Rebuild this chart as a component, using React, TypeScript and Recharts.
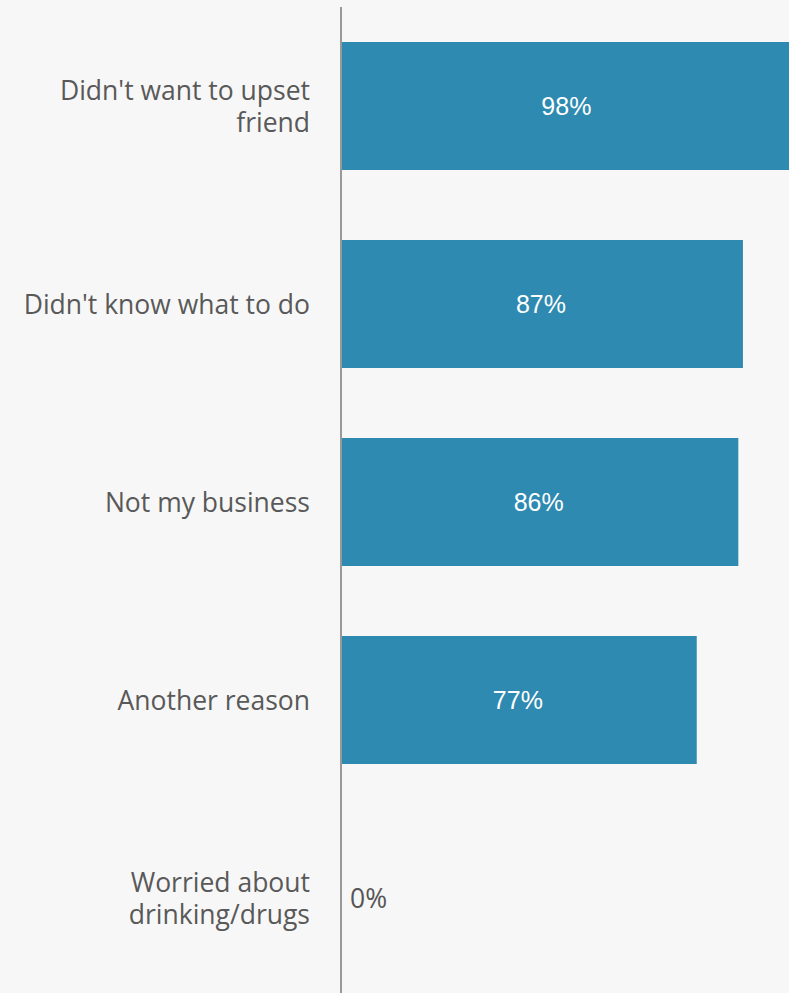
import { BarChart, Bar, XAxis, YAxis, LabelList } from 'recharts';

// reasons, share of respondents (%)
const REASONS = [
  "Didn't want to upset friend",
  "Didn't know what to do",
  'Not my business',
  'Another reason',
  'Worried about drinking/drugs',
];
const SHARES = [98, 87, 86, 77, 0];

const chartData = REASONS.map((reason, i) => ({ reason, share: SHARES[i] }));

const BAR_COLOR = '#2e8ab0';
const LABEL_FONT = '"Open Sans", "Noto Sans", sans-serif';
const LABEL_SIZE = 26.5;
const WRAP_WIDTH = 300;

// greedy word wrap measured with a canvas
const wrapLabel = (label: string): string[] => {
  const ctx = document.createElement('canvas').getContext('2d');
  if (!ctx) return [label];
  ctx.font = `${LABEL_SIZE}px ${LABEL_FONT}`;
  const lines: string[] = [];
  let line = '';
  label.split(' ').forEach(word => {
    const next = line ? `${line} ${word}` : word;
    if (line && ctx.measureText(next).width > WRAP_WIDTH) {
      lines.push(line);
      line = word;
    } else {
      line = next;
    }
  });
  if (line) lines.push(line);
  return lines;
};

// left-hand category label, one <text> per wrapped line
const ReasonTick = ({ x, y, payload }: any) => {
  const lines = wrapLabel(payload.value);
  const lineHeight = 32;
  const startY = y - ((lines.length - 1) * lineHeight) / 2;
  return (
    <g>
      {lines.map((l, i) => (
        <text
          key={i}
          x={x}
          y={startY + i * lineHeight}
          textAnchor="end"
          dominantBaseline="central"
          fontFamily={LABEL_FONT}
          fontSize={LABEL_SIZE}
          fill="#595959"
        >
          {l}
        </text>
      ))}
    </g>
  );
};

// value inside the bar, or just right of the axis when the bar is empty
const ShareLabel = ({ x, y, width, height, value }: any) => {
  const cy = y + height / 2;
  if (!value) {
    return (
      <text x={x + 9} y={cy} dominantBaseline="central" fontFamily={LABEL_FONT} fontSize={LABEL_SIZE} fill="#555">
        {`${value}%`}
      </text>
    );
  }
  return (
    <text
      x={x + width / 2 - 1}
      y={cy}
      textAnchor="middle"
      dominantBaseline="central"
      fontFamily='"Liberation Sans", Arial, sans-serif'
      fontSize={25}
      fill="#fff"
    >
      {`${value}%`}
    </text>
  );
};

export default function App() {
  return (
    <div
      style={{
        position: 'absolute',
        top: 0,
        left: 0,
        width: 789,
        height: 993,
        overflow: 'hidden',
        background: '#f7f7f7',
      }}
    >
      <BarChart
        width={803}
        height={1000}
        data={chartData}
        layout="vertical"
        margin={{ top: 7, right: 0, bottom: 3, left: 0 }}
      >
        <XAxis type="number" domain={[0, 100]} hide />
        <Bar dataKey="share" fill={BAR_COLOR} barSize={128} minPointSize={0.5} isAnimationActive={false}>
          <LabelList dataKey="share" content={<ShareLabel />} />
        </Bar>
        <YAxis
          type="category"
          dataKey="reason"
          width={341}
          tick={<ReasonTick />}
          tickLine={false}
          tickSize={0}
          tickMargin={31}
          axisLine={{ stroke: '#999', strokeWidth: 2 }}
        />
      </BarChart>
    </div>
  );
}
